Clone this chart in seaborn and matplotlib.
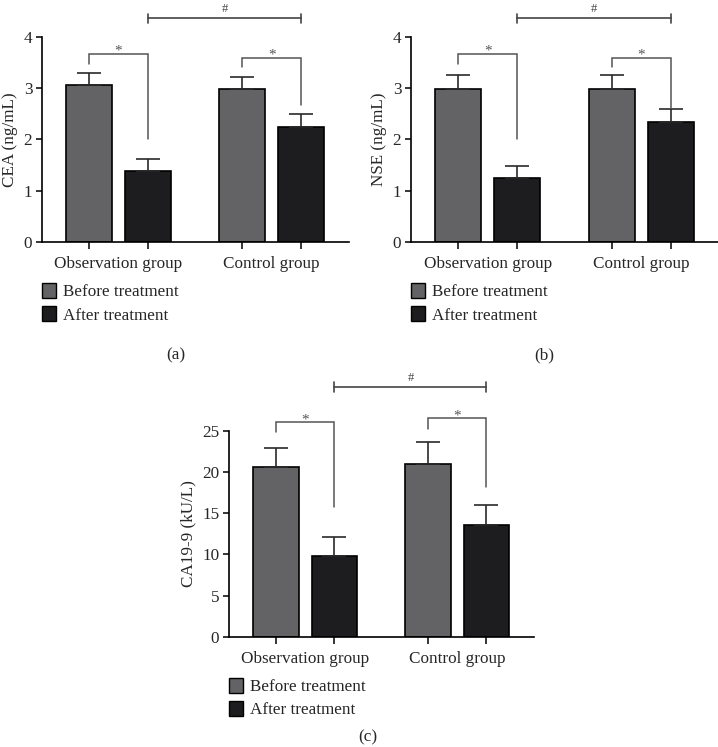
import numpy as np
import pandas as pd
import matplotlib
matplotlib.use("Agg")
import matplotlib.pyplot as plt
import seaborn as sns
from matplotlib.patches import Patch

groups = ["Observation group", "Control group"]
times = ["Before treatment", "After treatment"]

cea_mean = {"Before treatment": [3.06, 2.98], "After treatment": [1.39, 2.25]}
cea_sd = {"Before treatment": [0.24, 0.24], "After treatment": [0.23, 0.25]}
nse_mean = {"Before treatment": [2.98, 2.98], "After treatment": [1.25, 2.33]}
nse_sd = {"Before treatment": [0.27, 0.27], "After treatment": [0.23, 0.26]}
ca_mean = {"Before treatment": [20.6, 20.9], "After treatment": [9.8, 13.5]}
ca_sd = {"Before treatment": [2.35, 2.7], "After treatment": [2.35, 2.5]}

# bracket levels: (star bracket top, left leg bottom, right leg bottom) per group, and '#' bar level
cea_brackets = [(3.67, 3.46, 2.0), (3.59, 3.41, 2.66)]
nse_brackets = [(3.67, 3.46, 2.0), (3.59, 3.41, 2.62)]
ca_brackets = [(26.0, 24.8, 15.7), (26.5, 25.2, 18.2)]
cea_hash = 4.36
nse_hash = 4.36
ca_hash = 30.3

ylabels = ["CEA (ng/mL)", "NSE (ng/mL)", "CA19-9 (kU/L)"]
yticks_list = [[0, 1, 2, 3, 4], [0, 1, 2, 3, 4], [0, 5, 10, 15, 20, 25]]
ylims = [4, 4, 25]
panel_labels = ["(a)", "(b)", "(c)"]

colors = {"Before treatment": "#636366", "After treatment": "#1d1d1f"}
SERIF = "Liberation Serif"

sns.set_theme(style="ticks")
plt.rcParams["font.family"] = [SERIF, "DejaVu Serif"]

fig = plt.figure(figsize=(7.18, 7.47), dpi=100)
W, H = 718.0, 747.0
axes_px = [(42, 36.7, 307, 205.3), (411, 36.7, 308, 205.3), (229, 430.7, 305, 206)]
axes = []
for (l, t, w, h) in axes_px:
    axes.append(fig.add_axes([l / W, 1 - (t + h) / H, w / W, h / H]))

datasets = [(cea_mean, cea_sd, cea_brackets, cea_hash),
            (nse_mean, nse_sd, nse_brackets, nse_hash),
            (ca_mean, ca_sd, ca_brackets, ca_hash)]

fs = 12.3
for i, (ax, (mean, sd, brackets, hash_level)) in enumerate(zip(axes, datasets)):
    rows = []
    for t in times:
        for g, v in zip(groups, mean[t]):
            rows.append({"group": g, "time": t, "value": v})
    df = pd.DataFrame(rows)
    sns.barplot(data=df, x="group", y="value", hue="time", order=groups,
                hue_order=times, palette=colors, width=0.77, gap=0.22,
                edgecolor="black", linewidth=1.2, errorbar=None,
                legend=False, ax=ax, saturation=1)
    centers = {}
    for t, cont in zip(times, ax.containers):
        xs = [p.get_x() + p.get_width() / 2 for p in cont.patches]
        centers[t] = xs
        ax.errorbar(xs, mean[t], yerr=[np.zeros(len(xs)), sd[t]], fmt="none",
                    ecolor="#2a2a2a", elinewidth=1.2, capsize=8.5, capthick=1.2,
                    zorder=1)
    ymax = ylims[i]
    ax.set_ylim(0, ymax)
    ax.set_xlim(-0.5, 1.505)
    ax.set_yticks(yticks_list[i])
    ax.set_yticklabels([str(v) for v in yticks_list[i]], fontsize=fs)
    allc = sorted(centers[times[0]] + centers[times[1]])
    ax.set_xticks(allc, labels=[""] * len(allc))
    ax.set_xticks([0, 1], labels=groups, minor=True)
    ax.tick_params(axis="x", which="major", length=5, width=1.1, color="black")
    ax.tick_params(axis="x", which="minor", length=0, pad=10, labelsize=fs)
    ax.tick_params(axis="y", length=4, width=1.1, pad=3, color="black")
    ax.set_xlabel("")
    ax.set_ylabel(ylabels[i], fontsize=fs, labelpad=4)
    for s in ["top", "right"]:
        ax.spines[s].set_visible(False)
    for s in ["left", "bottom"]:
        ax.spines[s].set_linewidth(1.2)
        ax.spines[s].set_color("black")

    bc = "#555555"
    for j, (top, lleg, rleg) in enumerate(brackets):
        x0 = centers[times[0]][j]
        x1 = centers[times[1]][j]
        ax.plot([x0, x0, x1, x1], [lleg, top, top, rleg], color=bc, lw=1.1,
                clip_on=False, solid_joinstyle="miter")
        ax.text((x0 + x1) / 2, top - 0.005 * ymax, "*", ha="center", va="baseline",
                fontsize=11, color="#555555")
    xa = centers[times[1]][0]
    xb = centers[times[1]][1]
    tk = 0.022 * ymax
    ax.plot([xa, xb], [hash_level, hash_level], color="#444444", lw=1.2, clip_on=False)
    ax.plot([xa, xa], [hash_level - tk, hash_level + tk], color="#444444", lw=1.2, clip_on=False)
    ax.plot([xb, xb], [hash_level - tk, hash_level + tk], color="#444444", lw=1.2, clip_on=False)
    ax.text((xa + xb) / 2, hash_level + 0.03 * ymax, "#", ha="center", va="baseline",
            fontsize=9, color="#444444")

    handles = [Patch(facecolor=colors[t], edgecolor="black", linewidth=1.0) for t in times]
    ax.legend(handles, times, loc="upper left", bbox_to_anchor=(0, -0.2),
              frameon=False, fontsize=fs, handlelength=0.8, handleheight=0.95,
              handletextpad=0.45, borderaxespad=0, borderpad=0, labelspacing=0.35)

fig.text(176 / W, 1 - 355 / H, "(a)", ha="center", va="center", fontsize=fs)
fig.text(544 / W, 1 - 355 / H, "(b)", ha="center", va="center", fontsize=fs)
fig.text(368 / W, 1 - 737 / H, "(c)", ha="center", va="center", fontsize=fs)

fig.savefig("out.png", dpi=100)
